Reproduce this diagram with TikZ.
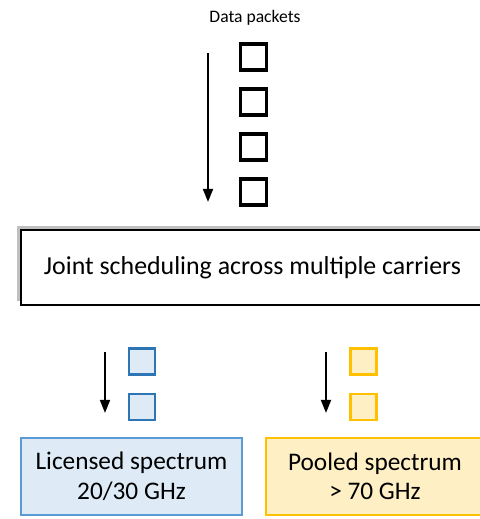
\documentclass[tikz,border=0pt]{standalone}
\usepackage{fontspec}
\setmainfont{Carlito}
\usepackage{tikz}
\usetikzlibrary{arrows.meta,positioning,shadows}
\definecolor{sBlue}{HTML}{2E75B6}
\definecolor{sBlueLine}{HTML}{5B9BD5}
\definecolor{sBlueFill}{HTML}{DEEBF7}
\definecolor{sGold}{HTML}{FFC000}
\definecolor{sGoldFill}{HTML}{FFEFC4}
\tikzset{pk/.style={draw, line width=2.2pt, inner sep=0pt, minimum size=6.5mm}}
\tikzset{pkb/.style={pk, line width=1.8pt, draw=sBlue, fill=sBlueFill, minimum size=6.6mm}}
\tikzset{pkg/.style={pk, line width=1.8pt, draw=sGold, fill=sGoldFill, minimum size=6.6mm}}
\tikzset{dn/.style={draw, line width=1.5pt, -{Triangle[length=3.3mm,width=2.5mm]}}}
\tikzset{band/.style={draw, inner sep=0pt, align=center, minimum height=18.9mm, font=\fontsize{18}{21}\selectfont}}

\begin{document}
\begin{tikzpicture}
        \useasboundingbox (0,0) rectangle (12,12.975);
        %% incoming packets
        \node (dp) at (6.375,12.525) {\fontsize{12.5}{14}\selectfont Data packets};
        \node (p1) at (6.34,11.55) [pk] {};
        \node (p2) at (6.34,10.425) [pk] {};
        \node (p3) at (6.34,9.3) [pk] {};
        \node (p4) at (6.34,8.175) [pk] {};
        \coordinate (a1) at (5.2,11.65);
        \coordinate (a2) at (5.2,7.925);
        \draw [dn] (a1) to (a2);
        %% scheduler
        \node (js) at (6.3125,6.2875) [band, line width=1.2pt, fill=white,
            minimum width=115.75mm, minimum height=18.75mm,
            drop shadow={shadow xshift=-2.5pt, shadow yshift=2.5pt, opacity=.5},
            font=\fontsize{18.4}{20}\selectfont] {Joint scheduling across multiple carriers};
        %% licensed carrier
        \node (b1) at (3.55,3.9375) [pkb] {};
        \node (b2) at (3.55,2.8) [pkb] {};
        \coordinate (l1) at (2.625,4.175);
        \coordinate (l2) at (2.625,2.65);
        \draw [dn] (l1) to (l2);
        \node (lic) at (3.2875,1.0625) [band, draw=sBlueLine, line width=1.4pt, fill=sBlueFill,
            minimum width=55.25mm, minimum height=19.25mm] {Licensed spectrum\\20/30 GHz};
        %% pooled carrier
        \node (g1) at (9.0875,3.9375) [pkg] {};
        \node (g2) at (9.0875,2.8) [pkg] {};
        \coordinate (r1) at (8.15,4.175);
        \coordinate (r2) at (8.15,2.65);
        \draw [dn] (r1) to (r2);
        \node (pool) at (9.375,1.0625) [band, draw=sGold, line width=1.4pt, fill=sGoldFill,
            minimum width=54.5mm, minimum height=19.25mm] {Pooled spectrum\\> 70 GHz};
    \end{tikzpicture}
\end{document}
